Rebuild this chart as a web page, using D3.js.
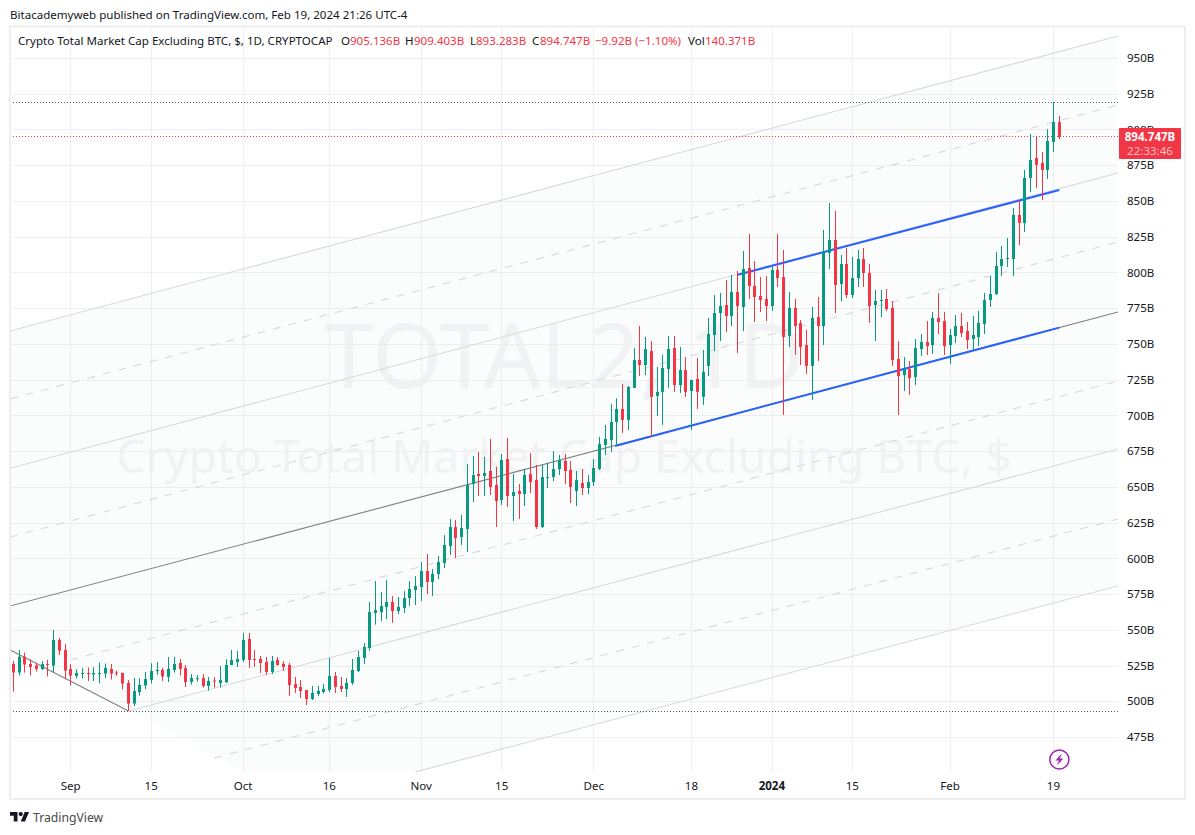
<!DOCTYPE html>
<html>
<head>
<meta charset="utf-8">
<title>TOTAL2</title>
<script src="https://cdn.jsdelivr.net/npm/d3@7"></script>
<style>
    html, body { margin: 0; padding: 0; background: #fff; }
    svg { display: block; }
    text { font-family: "Noto Sans", sans-serif; }
</style>
</head>
<body>
<svg id="grafik" width="1195" height="835"></svg>
<script>
// daily candles, 22 Aug 2023 - 20 Feb 2024, in billions
const opens = [
    526.1,520.1,531.2,526.1,525,522.4,526.1,525,542.9,535.9,
    522.6,517.7,519.4,519.8,518.7,519.4,519.4,522.6,520.1,519.8,
    512.8,498.4,506.5,511,514.9,521.4,521.9,517,521.9,526.8,
    523.3,513.5,515.4,516.3,510.7,514.5,512.8,513.3,525.4,527.5,
    528.9,543.6,529.6,529.6,527.5,520.5,528.9,526.1,525.4,512.1,
    510,507.9,501.6,505.1,506.5,507.9,517.7,510.7,508.6,512.8,
    521.2,530.3,537.3,561.7,562.4,566,569.4,563.1,565.3,572.2,
    577.8,579.9,591.1,583.4,589,596.7,608.6,621.9,614.9,620.5,
    652,659,657.6,661.1,651.3,640.8,669.5,643.6,647.1,645,
    659,654.8,621.9,656.2,656.9,662.5,668.1,661.8,647.1,652.7,
    649.2,653.4,662.5,679.3,682.8,695.4,704.5,696.8,719.2,738.7,
    735.2,745,713.6,716.4,732.4,747.1,721.2,731.7,717,725.5,
    712.9,734.6,756.2,771.6,777.2,769.5,786.3,775.8,803.1,790.5,
    783.5,781.4,776.5,801.7,796.8,755.5,775.1,764.6,749.2,734.6,
    768.8,762.5,813.6,822.7,791.9,805.9,784.2,796.1,809.4,799.6,
    777.2,780.2,781.4,775.1,739.4,728.2,732.4,726.8,746.4,751.3,
    749.2,768.1,766,749.2,755.5,762.5,759,753.4,754.8,763.9,
    780.7,784.9,804.5,809.4,809.4,840.2,834.6,866.1,880,876.6,
    871.7,891.3,905.136
];
const highs = [
    528.2,535.9,534,529.4,527,528,529,549.9,544.3,540,
    526,522.4,523.3,523.6,523.8,527,526.4,526.1,521.5,520,
    514.9,516.3,516,520.5,526.6,527.5,523.3,531,531,529.6,
    525.4,519.1,518.4,519,517,516.8,524.7,529.4,535.9,535.2,
    547.8,547.8,535.9,531.7,531,531.7,531,528,526.8,517,
    514.9,507.9,510.7,510.7,512.1,530.3,520.5,517,516.3,529.6,
    535.2,540.8,569.4,584.1,576.4,584.8,573.6,572.9,577.1,584.1,
    587.6,597.4,603,592.5,601.6,616.3,627.5,626.8,630.3,666,
    671.6,674.4,670.9,683.5,664,673,684.2,659,652,662.5,
    673.7,665.3,665.3,666.7,675,672.3,673,668.1,661.1,662.5,
    658.3,669.5,684.9,693.3,708,711.9,722,720.5,747,762.5,
    754.8,752,733.9,742.3,755.5,755.5,747.8,740.8,724.8,740.1,
    745.7,768.1,784.2,785.6,794.7,798.2,801,815,826.9,808,
    796.8,797.5,803.8,826.9,815.7,786.3,781.4,766.7,759.7,775.8,
    782.8,829.7,848.6,843,812.2,817.1,810.8,815.7,817.1,805.9,
    787.7,787.7,788.4,780,752,740.8,738,753.4,756.9,766,
    772.3,785.6,772.3,760.4,770.2,771.6,765.3,769.5,773,785.6,
    797.5,814.3,818.5,824,845.1,850.7,871.7,896.9,895.5,884.3,
    900.3,919.2,909.403
];
const lows = [
    506.8,518,520.1,518,520.8,522,517.3,520,532.4,515.4,
    511,515.9,515.9,514.2,514.2,512.6,516.3,515.2,517.7,508.2,
    493.2,496.7,504,508.4,512.4,518.4,514.2,513.5,520.1,518,
    510,511.7,513.8,509.6,507.5,509.6,509.6,512.8,525.4,524,
    527.5,523.3,524,519.8,518.4,519.1,525,521.2,503.7,505.8,
    502.3,497.4,500.9,503.7,505.4,506.5,505.8,506.5,503,511.4,
    520.5,526.1,535.2,553.6,556.1,557.5,554.8,561,561.7,566.6,
    567.3,570.1,575,573.6,585.5,593.2,602.3,600.2,609.3,604.4,
    639.4,643.6,643.6,644.3,621.9,637.3,635.9,626.1,627.5,636.6,
    645.7,620.5,621.2,649.2,654.1,658.3,652,638.7,636.6,644.3,
    645,650.6,661.8,672.3,674.4,678.6,687.7,689.8,719,727.5,
    728.2,684.9,699.6,693.3,719.2,716.4,715.7,712.9,689.8,704.5,
    707.3,727.5,745,752,758.3,762.5,743.6,759,781.4,765.3,
    772.3,766,773,789.8,700.3,747.8,742.2,735.2,729,710.8,
    738,749.2,802.4,771.6,780,782.1,782.1,789.8,789.8,764.6,
    752,768.8,773,734.6,700.3,717,714.3,721.3,741.5,742.2,
    742.9,756.9,742.2,735.9,750.6,754.8,746.4,745.7,748.5,756.9,
    775.8,784.2,797.5,803.8,797.5,819.2,828.3,856.3,859,850.7,
    865.4,884.3,893.283
];
const closes = [
    520.1,531.2,525.7,524,522.6,526,525.4,542.9,535.4,521.5,
    518,519.8,519.8,519.4,519.8,519.8,523.3,519.4,519.6,512.4,
    498.4,507.2,511.4,515.6,521.2,521.9,517.3,522.6,526.1,522.6,
    513.5,516.3,516.1,510.7,514.2,514,514.9,525.4,528.9,529.6,
    542.9,528.9,528.9,526.8,520.5,528.2,525.4,524,511.4,509.3,
    507.2,501.6,505.8,507.2,508.6,517.7,510,508.6,512.8,521.9,
    531,538,562.4,563.8,566.6,569.4,563.1,566,572.2,578.5,
    580.6,591.1,583.4,589,597.4,609.3,621.9,614.2,621.2,651.3,
    658.3,657.6,659.7,649.9,640.1,668.8,643.6,646.4,645,658.3,
    653.4,621.9,656.9,656.9,662.5,668.8,661.1,649.9,654.8,649.2,
    653.4,663.2,680,683.5,695.4,704.5,696.8,719.9,738.7,735.2,
    746.4,712.9,716.4,733.1,746.4,721.2,731.7,716.4,724.8,716.4,
    730.4,756.9,771.6,776.5,769.5,786.3,776.5,802.4,790.5,782.8,
    780.7,776.5,801.7,796.1,754.8,775.1,762.5,747.8,734.6,768.1,
    762.5,814.3,822.7,791.2,805.9,784.2,796.1,809.4,799.6,776.5,
    780,780.7,774.4,738.7,727.5,732.4,726.1,747.1,751.3,748.5,
    768.1,765.3,748.5,756.2,762.5,757.6,752.7,756.2,764.6,780.7,
    784.9,804.5,809.4,810.1,840.2,834.6,866.1,878.7,875.2,871.7,
    892,905.2,894.747
];

const priceTicks = [950,925,900,875,850,825,800,775,750,725,700,675,650,625,600,575,550,525,500,475];
const dateTickBars = [10,24,40,55,71,85,101,118,132,146,163,181];
const dateTickLabels = ["Sep","15","Oct","16","Nov","15","Dec","18","2024","15","Feb","19"];

// pitchfork levels, top to bottom: bar and price where each starts, price at the right edge
const forkStartBars = [-0.6,-0.6,-0.6,-0.6,-0.6,9.9,20,34.9,69.9];
const forkStartPrices = [759,711.5,663,614.9,566.6,528.9,493.2,460.3,450.5];
const forkEndPrices = [965.4,917.1,869.6,821.3,772.3,724,676.5,627.5,580.6];
const forkEndBar = 192.2;
const handleBars = [-0.6,20,40.5];
const handlePrices = [535.9,493.2,450.5];

// the two hand drawn blue lines
const blueStartBars = [125.9,104.7];
const blueStartPrices = [798.2,678.6];
const blueEndBars = [182,182];
const blueEndPrices = [857.7,761.4];

const dottedPrices = [919.2,493.2];
const lastPrice = 894.747;

const legendParts = [
    ["Crypto Total Market Cap Excluding BTC, $, 1D, CRYPTOCAP", "#131722", 18],
    ["O", "#131722", 341], ["905.136B", "#f23645", 350],
    ["H", "#131722", 405], ["909.403B", "#f23645", 414],
    ["L", "#131722", 470], ["893.283B", "#f23645", 476],
    ["C", "#131722", 532], ["894.747B", "#f23645", 540],
    ["−9.92B (−1.10%)", "#f23645", 595],
    ["Vol", "#131722", 688], ["140.371B", "#f23645", 705]
];

const upColor = "#089981";
const downColor = "#f23645";
const labelSize = 11.55;

const svg = d3.select("#grafik");
const x = d3.scaleLinear().domain([-0.6, forkEndBar]).range([10, 1118]);
const y = d3.scaleLinear().domain([475, 950]).range([737, 58]);
const bars = d3.range(opens.length);

// outer frame
svg.append("rect")
    .attr("x", 10).attr("y", 26.5)
    .attr("width", 1175).attr("height", 772.5)
    .attr("fill", "none").attr("stroke", "#eeeeee").attr("stroke-width", 2);

svg.append("text").attr("x", 10).attr("y", 19)
    .attr("font-size", labelSize).attr("fill", "#131722")
    .text("Bitacademyweb published on TradingView.com, Feb 19, 2024 21:26 UTC-4");

svg.append("defs").append("clipPath").attr("id", "alan")
    .append("rect").attr("x", 11).attr("y", 27.5).attr("width", 1107).attr("height", 744.5);

const plot = svg.append("g").attr("clip-path", "url(#alan)");

// watermark
plot.append("text").attr("x", 564).attr("y", 388)
    .attr("text-anchor", "middle").attr("font-size", 90).attr("fill", "#f4f4f7")
    .text("TOTAL2, 1D");
plot.append("text").attr("x", 564).attr("y", 473)
    .attr("text-anchor", "middle").attr("font-size", 46.4).attr("fill", "#f4f4f7")
    .text("Crypto Total Market Cap Excluding BTC, $");

// grid
plot.selectAll(".yat").data(priceTicks).join("line").attr("class", "yat")
    .attr("x1", 10).attr("x2", 1118)
    .attr("y1", d => Math.round(y(d)) + 0.5).attr("y2", d => Math.round(y(d)) + 0.5)
    .attr("stroke", "#f0f0f0");
plot.selectAll(".dik").data(dateTickBars).join("line").attr("class", "dik")
    .attr("y1", 26).attr("y2", 772)
    .attr("x1", d => Math.floor(x(d)) + 0.5).attr("x2", d => Math.floor(x(d)) + 0.5)
    .attr("stroke", "#f0f0f0");

// channel fill
const last = forkStartBars.length - 1;
const fillPoints = [
    [forkStartBars[0], forkStartPrices[0]],
    [forkEndBar, forkEndPrices[0]],
    [forkEndBar, forkEndPrices[last]],
    [forkStartBars[last], forkStartPrices[last]],
    [handleBars[2], handlePrices[2]],
    [handleBars[1], handlePrices[1]],
    [handleBars[0], handlePrices[0]]
];
plot.append("path")
    .attr("d", d3.line().x(d => x(d[0])).y(d => y(d[1]))(fillPoints) + "Z")
    .attr("fill", "#fbfdfc")
    .style("mix-blend-mode", "multiply");

// channel lines, odd levels dashed, middle one dark
plot.selectAll(".fork").data(forkStartBars).join("line").attr("class", "fork")
    .attr("x1", d => x(d))
    .attr("y1", (d, i) => y(forkStartPrices[i]))
    .attr("x2", x(forkEndBar))
    .attr("y2", (d, i) => y(forkEndPrices[i]))
    .attr("stroke", (d, i) => i === 4 ? "#808085" : "#d8d8e0")
    .attr("stroke-width", 1.1)
    .attr("stroke-dasharray", (d, i) => i % 2 === 1 ? "8 8" : null);

plot.append("line")
    .attr("x1", x(handleBars[0])).attr("y1", y(handlePrices[0]))
    .attr("x2", x(handleBars[1])).attr("y2", y(handlePrices[1]))
    .attr("stroke", "#808085").attr("stroke-width", 1.1);

// dotted levels
plot.selectAll(".nokta").data(dottedPrices).join("line").attr("class", "nokta")
    .attr("x1", 10).attr("x2", 1118)
    .attr("y1", d => Math.round(y(d)) + 0.5).attr("y2", d => Math.round(y(d)) + 0.5)
    .attr("stroke", "#555a66").attr("stroke-dasharray", "1 2");

plot.append("line")
    .attr("x1", 10).attr("x2", 1118)
    .attr("y1", Math.round(y(lastPrice)) - 0.5).attr("y2", Math.round(y(lastPrice)) - 0.5)
    .attr("stroke", downColor).attr("stroke-dasharray", "1 2");

// blue lines
plot.selectAll(".mavi").data(blueStartBars).join("line").attr("class", "mavi")
    .attr("x1", d => x(d))
    .attr("y1", (d, i) => y(blueStartPrices[i]))
    .attr("x2", (d, i) => x(blueEndBars[i]))
    .attr("y2", (d, i) => y(blueEndPrices[i]))
    .attr("stroke", "#2962ff").attr("stroke-width", 2);

// candles
const barColor = i => closes[i] >= opens[i] ? upColor : downColor;

plot.selectAll(".fitil").data(bars).join("rect").attr("class", "fitil")
    .attr("x", i => Math.floor(x(i)))
    .attr("width", 1)
    .attr("y", i => y(highs[i]))
    .attr("height", i => y(lows[i]) - y(highs[i]))
    .attr("fill", barColor);

plot.selectAll(".govde").data(bars).join("rect").attr("class", "govde")
    .attr("x", i => Math.floor(x(i)) - 1)
    .attr("width", 3)
    .attr("y", i => y(Math.max(opens[i], closes[i])))
    .attr("height", i => Math.max(1, Math.abs(y(opens[i]) - y(closes[i]))))
    .attr("fill", barColor);

// axes
const yAxis = d3.axisRight(y).tickValues(priceTicks).tickFormat(d => d + "B").tickSize(0).tickPadding(9);
const yGroup = svg.append("g").attr("transform", "translate(1118,0)").call(yAxis);
yGroup.select(".domain").remove();
yGroup.selectAll("text")
    .style("font-family", '"Noto Sans", sans-serif')
    .attr("font-size", labelSize).attr("fill", "#131722");

const xAxis = d3.axisBottom(x).tickValues(dateTickBars)
    .tickFormat((d, i) => dateTickLabels[i]).tickSize(0).tickPadding(10);
const xGroup = svg.append("g").attr("transform", "translate(-0.7,772)").call(xAxis);
xGroup.select(".domain").remove();
xGroup.selectAll("text")
    .style("font-family", '"Noto Sans", sans-serif')
    .attr("font-size", labelSize).attr("fill", "#131722")
    .attr("font-weight", (d, i) => dateTickLabels[i] === "2024" ? 700 : 400);

// legend row
svg.selectAll(".lejant").data(legendParts).join("text").attr("class", "lejant")
    .attr("x", d => d[2]).attr("y", 45)
    .attr("font-size", labelSize).attr("fill", d => d[1])
    .text(d => d[0]);

// last price tag, sits over the 900B label like in the reference
svg.append("rect").attr("x", 1119).attr("y", 128).attr("width", 62).attr("height", 31)
    .attr("rx", 1).attr("fill", downColor);
svg.append("text").attr("x", 1150).attr("y", 141).attr("text-anchor", "middle")
    .attr("font-size", labelSize).attr("font-weight", 700).attr("fill", "#fff").text(lastPrice + "B");
svg.append("text").attr("x", 1150).attr("y", 155).attr("text-anchor", "middle")
    .attr("font-size", labelSize).attr("fill", "#fff").attr("fill-opacity", 0.7).text("22:33:46");

// lightning badge over the last bars
const badge = svg.append("g").attr("transform", "translate(" + x(opens.length - 1) + ",759.5)");
badge.append("circle").attr("r", 9.5).attr("fill", "#fff").attr("stroke", "#9c27b0").attr("stroke-width", 1.5);
badge.append("path").attr("d", "M2.5,-6 L-4,1 L-0.5,1 L-2.5,6 L4,-1 L0.5,-1 Z").attr("fill", "#9c27b0");

// logo
const logo = svg.append("g").attr("transform", "translate(10,809.8) scale(0.536)").attr("fill", "#131722");
logo.append("path").attr("d", "M14 22H7V11H0V4h14v18zM28 22h-8l7.5-18h8L28 22z");
logo.append("circle").attr("cx", 20).attr("cy", 8).attr("r", 4);
svg.append("text").attr("x", 33).attr("y", 822)
    .attr("font-size", 12.2).attr("fill", "#4a4a4a").text("TradingView");
</script>
</body>
</html>
